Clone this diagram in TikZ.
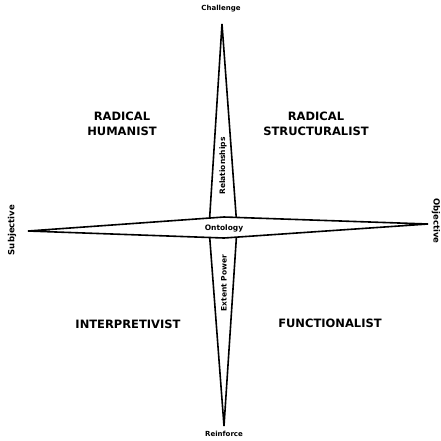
\documentclass[tikz,border=0pt]{standalone}
\usepackage{fontspec}
\setmainfont{DejaVu Sans}
\begin{document}
\begin{tikzpicture}[x=1pt,y=-1pt,
  quad/.style={font=\bfseries\fontsize{11.5}{14.5}\selectfont, align=center, inner sep=0pt},
  axislbl/.style={font=\bfseries\fontsize{7}{8}\selectfont, inner sep=0pt},
  sidelbl/.style={font=\bfseries\fontsize{8.5}{9}\selectfont, inner sep=0pt},
  innerlbl/.style={font=\bfseries\fontsize{7.5}{8}\selectfont, inner sep=0pt},
  spindle/.style={draw=black, fill=white, line width=1.6pt, line join=miter}]
\useasboundingbox (0,0) rectangle (441,440);
% tips
\coordinate (T) at (222,24);
\coordinate (B) at (224,426);
\coordinate (L) at (28,231);
\coordinate (R) at (428,224);
\coordinate (VL) at (209,228);
\coordinate (VR) at (237,228);
\coordinate (HT) at (224,217);
\coordinate (HB) at (224,238);
% vertical diamond
\draw[spindle] (T) -- (VR) -- (B) -- (VL) -- cycle;
% horizontal diamond
\draw[spindle] (L) -- (HT) -- (R) -- (HB) -- cycle;
% labels
\node[axislbl] (ch) at (221,9) {Challenge};
\node[axislbl] (re) at (224,434) {Reinforce};
\node[sidelbl, rotate=90] (su) at (12,230) {Subjective};
\node[sidelbl, rotate=-90] (ob) at (436,221) {Objective};
\node[innerlbl] (on) at (224,228) {Ontology};
\node[innerlbl, rotate=90] (rl) at (223,166) {Relationships};
\node[innerlbl, rotate=90] (ep) at (224,283) {Extent Power};
\node[quad] (rh) at (122,124) {RADICAL\\HUMANIST};
\node[quad] (rs) at (316,124) {RADICAL\\STRUCTURALIST};
\node[quad] (ip) at (128,324) {INTERPRETIVIST};
\node[quad] (fu) at (330,323) {FUNCTIONALIST};
\end{tikzpicture}
\end{document}
